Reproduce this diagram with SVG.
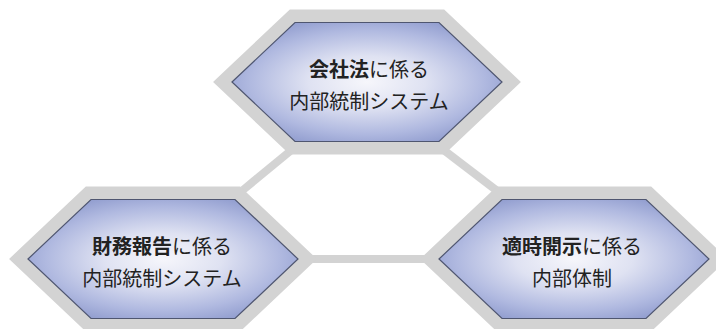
<svg xmlns="http://www.w3.org/2000/svg" width="716" height="329" viewBox="0 0 716 329">
  <defs>
    <radialGradient id="blueFill" cx="0.5" cy="0.5" r="0.62" fx="0.5" fy="0.5">
      <stop offset="0" stop-color="#f6f6fb"/>
      <stop offset="0.35" stop-color="#dfe2f2"/>
      <stop offset="0.7" stop-color="#b0b9e0"/>
      <stop offset="1" stop-color="#8592c8"/>
    </radialGradient>
    <polygon id="hex" points="-135,0 -72,-59.5 72,-59.5 135,0 72,59.5 -72,59.5"/>
  </defs>
  <style>
    .frame { fill: #d3d3d3; stroke: #d3d3d3; stroke-width: 26; stroke-linejoin: miter; }
    .face { fill: url(#blueFill); stroke: #4f5670; stroke-width: 1.2; }
    .conn { stroke: #d3d3d3; stroke-width: 8; fill: none; }
    .lbl { font-family: "Noto Sans CJK JP", "Noto Sans", sans-serif; font-size: 20px; fill: #222222; text-anchor: middle; }
    .b { font-weight: bold; }
  </style>
  <rect width="716" height="329" fill="#ffffff"/>
  <g id="connectors">
    <line class="conn" x1="294" y1="148" x2="243" y2="190"/>
    <line class="conn" x1="441" y1="148" x2="496" y2="190"/>
    <line class="conn" x1="300" y1="259" x2="440" y2="259"/>
  </g>
  <g id="node-top">
    <use href="#hex" class="frame" transform="translate(367,82)"/>
    <use href="#hex" class="face" transform="translate(367,82)"/>
    <text class="lbl" x="369" y="77"><tspan class="b">会社法</tspan>に係る</text>
    <text class="lbl" x="369" y="109">内部統制システム</text>
  </g>
  <g id="node-left">
    <use href="#hex" class="frame" transform="translate(163,259)"/>
    <use href="#hex" class="face" transform="translate(163,259)"/>
    <text class="lbl" x="162" y="254"><tspan class="b">財務報告</tspan>に係る</text>
    <text class="lbl" x="162" y="286">内部統制システム</text>
  </g>
  <g id="node-right">
    <use href="#hex" class="frame" transform="translate(574,259)"/>
    <use href="#hex" class="face" transform="translate(574,259)"/>
    <text class="lbl" x="572" y="254"><tspan class="b">適時開示</tspan>に係る</text>
    <text class="lbl" x="572" y="286">内部体制</text>
  </g>
</svg>
